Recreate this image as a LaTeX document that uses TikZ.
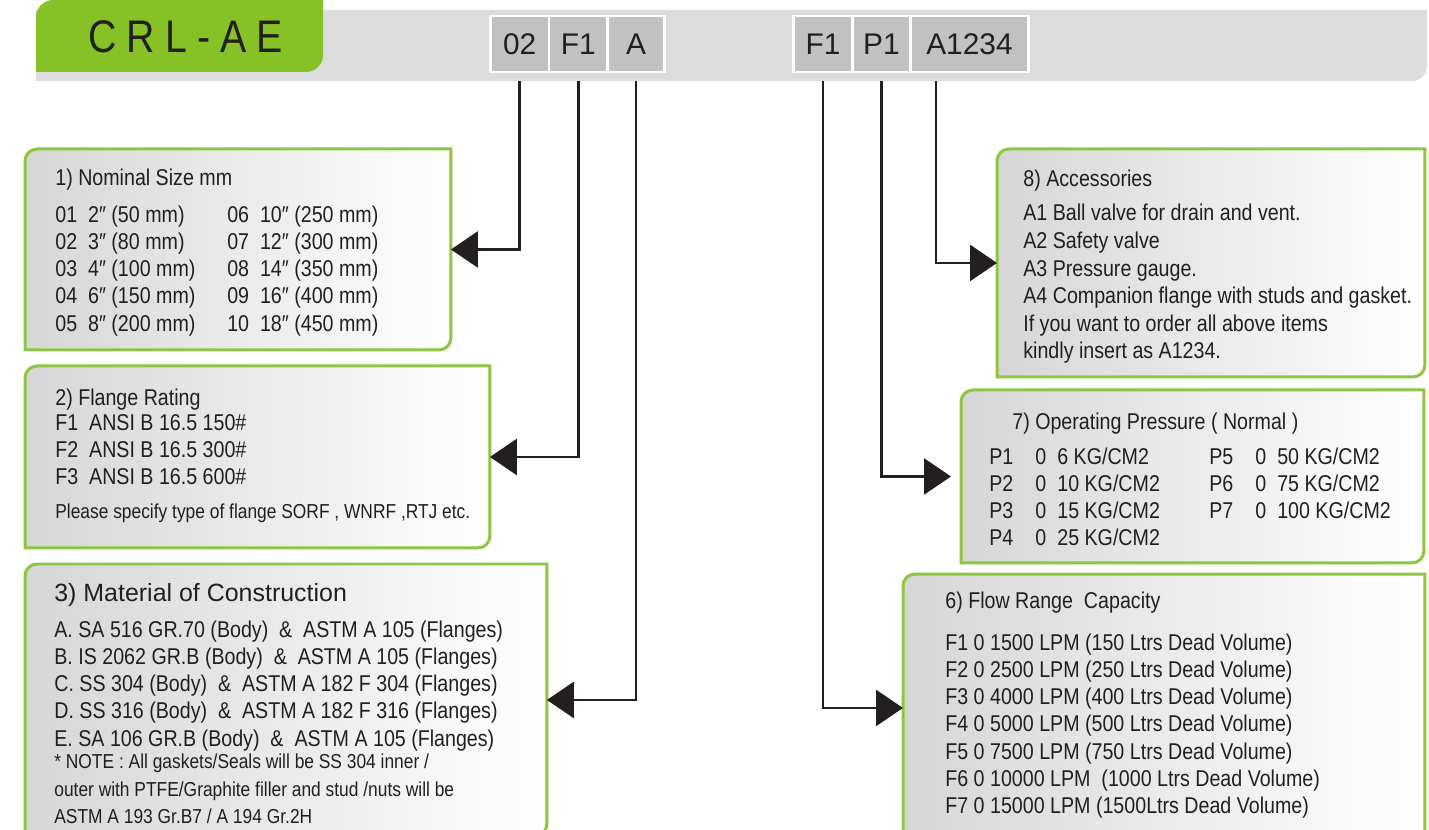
\documentclass[tikz,border=0pt]{standalone}
\usepackage{fontspec}
\setmainfont{Liberation Sans}
\newfontfamily\narrowsans{Liberation Sans}[FakeStretch=0.86]
\newfontfamily\spacedsans{Liberation Sans}[FakeStretch=0.86, LetterSpace=22]
\usepackage{tikz}
\usetikzlibrary{positioning}
\usetikzlibrary{arrows.meta}
\usepackage{xcolor}

\definecolor{ink}{HTML}{231F20}
\definecolor{leaf}{HTML}{86C226}
\definecolor{rimgreen}{HTML}{8DC63F}
\definecolor{bargray}{HTML}{DCDCDC}
\definecolor{cellgray}{HTML}{C1C1C1}
\definecolor{panelgray}{HTML}{D6D6D6}

\newcommand{\bodyfont}{\narrowsans\fontsize{13pt}{15.5pt}\selectfont}
\newcommand{\notefont}{\narrowsans\fontsize{11.5pt}{13.7pt}\selectfont}
\newcommand{\cellfont}{\rmfamily\fontsize{17pt}{20pt}\selectfont}
\newcommand{\brandfont}{\spacedsans\fontsize{26pt}{30pt}\selectfont}
\newcommand{\cornerr}{0.24cm}
\newcommand{\panel}[1]{%
  \draw[rim] (#1.south west) -- ([yshift=-\cornerr]#1.north west)
    arc[start angle=180, end angle=90, radius=\cornerr] -- (#1.north east)
    -- ([yshift=\cornerr]#1.south east)
    arc[start angle=0, end angle=-90, radius=\cornerr] -- cycle;}

\begin{document}
\begin{tikzpicture}[x=0.02cm, y=-0.02cm,
    cell/.style={fill=cellgray, draw=white, line width=0.055cm, inner sep=0,
      outer sep=0, minimum height=1.12cm, text=ink, font=\cellfont},
    box/.style={anchor=north west, inner sep=0, outer sep=0},
    rim/.style={draw=rimgreen, line width=0.06cm, left color=panelgray, right color=white},
    txt/.style={anchor=base west, inner sep=0, text=ink, font=\bodyfont},
    link/.style={draw=ink, line width=0.055cm, -{Triangle[length=0.54cm, width=0.72cm]}}]
    \useasboundingbox (0,0) rectangle (1429,830);
    \clip (0,0) rectangle (1429,830);
    \fill[white] (0,0) rectangle (1429,830);

    % Header bar
    \fill[bargray] (36,10) -- (1427,10) -- ([yshift=0.3cm]1427,81)
      arc[start angle=0, end angle=-90, radius=0.3cm] -- (36,81) -- cycle;
    \fill[leaf] (36,72) -- ([yshift=-0.34cm]36,0)
      arc[start angle=180, end angle=90, radius=0.34cm] -- (323,0)
      -- ([yshift=0.34cm]323,72) arc[start angle=0, end angle=-90, radius=0.34cm] -- cycle;
    \node[anchor=base west, inner sep=0, text=ink, font=\brandfont] (brand) at (88,53) {CRL-AE};

    % Code cells
    \node[cell, anchor=west, minimum width=1.17cm] (c02) at (490.5,44) {02};
    \node[cell, minimum width=1.17cm, right=0pt of c02] (cF1) {F1};
    \node[cell, minimum width=1.14cm, right=0pt of cF1] (cA) {A};
    \node[cell, anchor=west, minimum width=1.18cm] (fF1) at (793.5,44) {F1};
    \node[cell, minimum width=1.16cm, right=0pt of fF1] (fP1) {P1};
    \node[cell, minimum width=2.36cm, right=0pt of fP1] (fA) {A1234};

    % Panels
    \node[box, minimum width=8.52cm, minimum height=4.02cm] (size) at (25,149) {};
    \node[box, minimum width=9.3cm, minimum height=3.64cm] (rating) at (25,366) {};
    \node[box, minimum width=10.44cm, minimum height=5.44cm] (material) at (25,564) {};
    \node[box, minimum width=8.56cm, minimum height=4.56cm] (accessory) at (997,149) {};
    \node[box, minimum width=9.26cm, minimum height=3.46cm] (pressure) at (961,390) {};
    \node[box, minimum width=10.44cm, minimum height=5.36cm] (flow) at (903,574) {};
    \panel{size}
    \panel{rating}
    \panel{material}
    \panel{accessory}
    \panel{pressure}
    \panel{flow}

    % Panel texts
    \node[txt] (size-txt) at (55,186) {\begin{tabular}[t]{@{}p{3.44cm}@{}l@{}}
      \multicolumn{2}{@{}l@{}}{1) Nominal Size mm}\\[5.1pt]
      01\ \ 2″ (50 mm) & 06\ \ 10″ (250 mm)\\
      02\ \ 3″ (80 mm) & 07\ \ 12″ (300 mm)\\
      03\ \ 4″ (100 mm) & 08\ \ 14″ (350 mm)\\
      04\ \ 6″ (150 mm) & 09\ \ 16″ (400 mm)\\
      05\ \ 8″ (200 mm) & 10\ \ 18″ (450 mm)
    \end{tabular}};
    \node[txt] (rating-txt) at (55,406) {\begin{tabular}[t]{@{}l@{}}
      2) Flange Rating\\[-1.7pt]
      F1\ \ ANSI B 16.5 150\#\\
      F2\ \ ANSI B 16.5 300\#\\
      F3\ \ ANSI B 16.5 600\#\\[3.5pt]
      {\notefont Please specify type of flange SORF , WNRF ,RTJ etc.}
    \end{tabular}};
    \node[txt] (material-txt) at (54,602) {\begin{tabular}[t]{@{}l@{}}
      {\rmfamily\fontsize{14.2pt}{16pt}\selectfont 3) Material of Construction}\\[4.5pt]
      A. SA 516 GR.70 (Body)\ \ \&\ \ ASTM A 105 (Flanges)\\
      B. IS 2062 GR.B (Body)\ \ \&\ \ ASTM A 105 (Flanges)\\
      C. SS 304 (Body)\ \ \&\ \ ASTM A 182 F 304 (Flanges)\\
      D. SS 316 (Body)\ \ \&\ \ ASTM A 182 F 316 (Flanges)\\
      E. SA 106 GR.B (Body)\ \ \&\ \ ASTM A 105 (Flanges)\\[-2.5pt]
      {\notefont * NOTE : All gaskets/Seals will be SS 304 inner /}\\
      {\notefont outer with PTFE/Graphite filler and stud /nuts will be}\\
      {\notefont ASTM A 193 Gr.B7 / A 194 Gr.2H}
    \end{tabular}};
    \node[txt] (accessory-txt) at (1023,187) {\begin{tabular}[t]{@{}l@{}}
      8) Accessories\\[3.8pt]
      A1 Ball valve for drain and vent.\\[0.2pt]
      A2 Safety valve\\[0.2pt]
      A3 Pressure gauge.\\[0.2pt]
      A4 Companion flange with studs and gasket.\\[0.2pt]
      If you want to order all above items\\[0.2pt]
      kindly insert as A1234.
    \end{tabular}};
    \node[txt] (pressure-txt) at (989,430) {\begin{tabular}[t]{@{}p{0.92cm}@{}p{0.44cm}@{}p{3.04cm}@{}p{0.92cm}@{}p{0.44cm}@{}l@{}}
      \multicolumn{6}{@{\hspace{0.46cm}}l@{}}{7) Operating Pressure ( Normal )}\\[4pt]
      P1 & 0 & 6 KG/CM2 & P5 & 0 & 50 KG/CM2\\
      P2 & 0 & 10 KG/CM2 & P6 & 0 & 75 KG/CM2\\
      P3 & 0 & 15 KG/CM2 & P7 & 0 & 100 KG/CM2\\
      P4 & 0 & 25 KG/CM2 & & &
    \end{tabular}};
    \node[txt] (flow-txt) at (945,608) {\begin{tabular}[t]{@{}l@{}}
      6) Flow Range\ \ Capacity\\[8.5pt]
      F1 0 1500 LPM (150 Ltrs Dead Volume)\\
      F2 0 2500 LPM (250 Ltrs Dead Volume)\\
      F3 0 4000 LPM (400 Ltrs Dead Volume)\\
      F4 0 5000 LPM (500 Ltrs Dead Volume)\\
      F5 0 7500 LPM (750 Ltrs Dead Volume)\\
      F6 0 10000 LPM\ \ (1000 Ltrs Dead Volume)\\
      F7 0 15000 LPM (1500Ltrs Dead Volume)
    \end{tabular}};

    % Connectors
    \coordinate (barfoot) at (0,81);
    \coordinate (tapacc) at (936,81);
    \draw[link] (c02 |- barfoot) |- (size.east);
    \draw[link] (cF1 |- barfoot) |- (rating.east);
    \draw[link] (cA |- barfoot) |- (material.east);
    \draw[link] (fF1 |- barfoot) |- (flow.west);
    \draw[link, shorten >=0.2cm] (fP1 |- barfoot) |- (pressure.west);
    \draw[link] (tapacc) |- (accessory.west);
\end{tikzpicture}
\end{document}
